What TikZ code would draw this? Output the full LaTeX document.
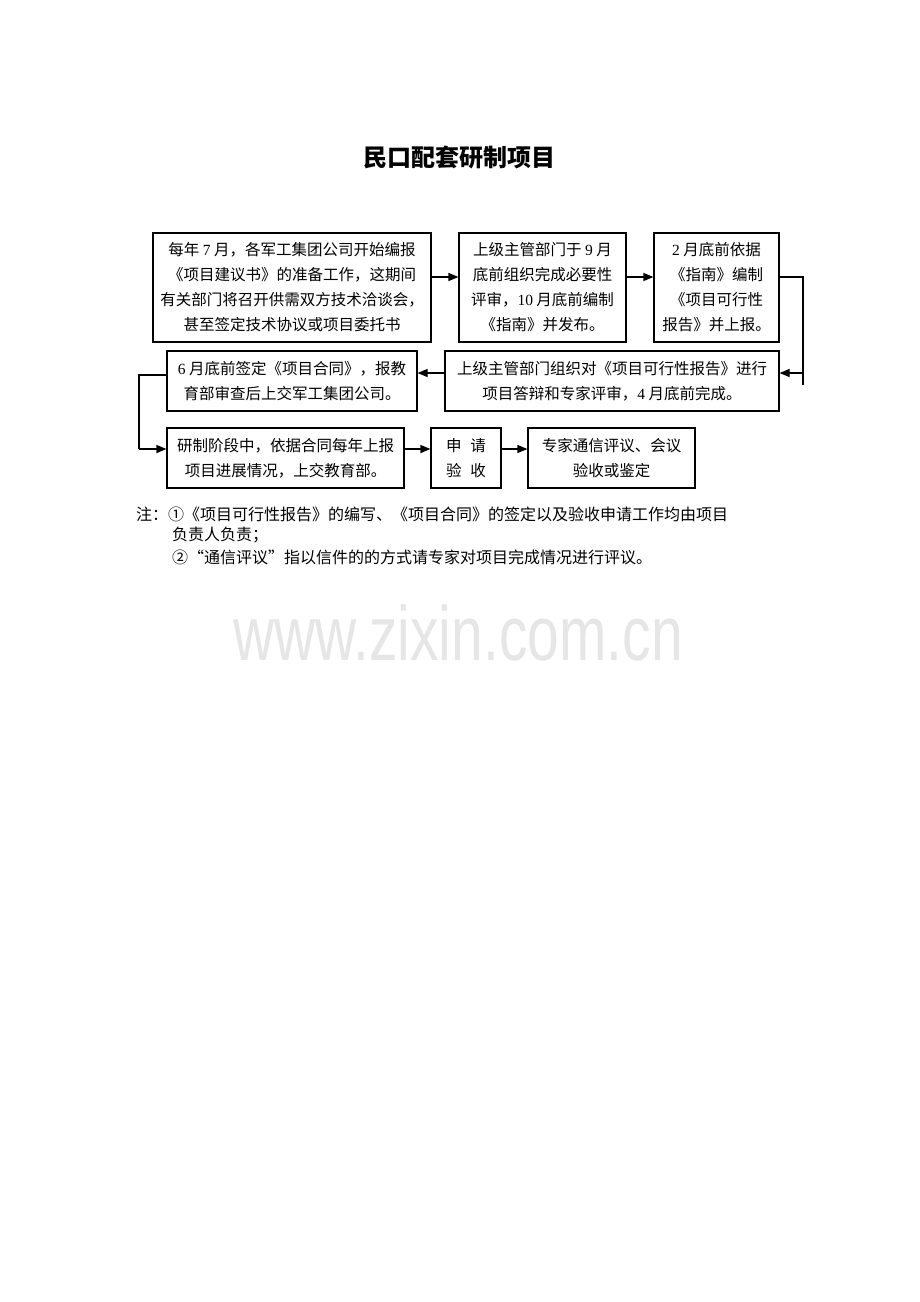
\documentclass[tikz,border=0pt]{standalone}
\usepackage{fontspec}
\usetikzlibrary{arrows.meta}
\newfontfamily\cjk{Noto Sans CJK SC}
\newfontfamily\latf{Liberation Serif}
\newfontfamily\wmfont{Liberation Sans}
\newcommand\lat[1]{{\latf #1}}
\definecolor{wmgray}{HTML}{E6E6E6}
\begin{document}
\begin{tikzpicture}[x=1pt,y=-1pt,
  box/.style={draw=black, line width=1.2pt, inner sep=0pt, align=center,
    font=\cjk\fontsize{15.5pt}{25pt}\selectfont},
  arr/.style={line width=1.2pt, -{Triangle[length=10pt,width=8pt]}},
  ln/.style={line width=1.2pt},
  note/.style={anchor=west, inner sep=0pt, font=\cjk\fontsize{16pt}{21pt}\selectfont}]
\useasboundingbox[fill=white] (0,0) rectangle (920,1302);

\node[inner sep=0pt, font=\cjk\bfseries\fontsize{24pt}{28pt}\selectfont] (title) at (459.5,157) {民口配套研制项目};

% row 1
\node[box, minimum width=278pt, minimum height=109pt] (b1) at (292,287.5)
  {每年 \lat{7} 月，各军工集团公司开始编报\\《项目建议书》的准备工作，这期间\\有关部门将召开供需双方技术洽谈会，\\甚至签定技术协议或项目委托书};
\node[box, minimum width=167pt, minimum height=109pt] (b2) at (542.5,287.5)
  {上级主管部门于 \lat{9} 月\\底前组织完成必要性\\评审，\lat{10} 月底前编制\\《指南》并发布。};
\node[box, minimum width=125pt, minimum height=109pt] (b3) at (716.5,287.5)
  {\lat{2} 月底前依据\\《指南》编制\\《项目可行性\\报告》并上报。};

% row 2
\node[box, minimum width=334pt, minimum height=60pt] (b5) at (612,381)
  {上级主管部门组织对《项目可行性报告》进行\\项目答辩和专家评审，\lat{4} 月底前完成。};
\node[box, minimum width=250pt, minimum height=60pt] (b4) at (292,381)
  {\lat{6} 月底前签定《项目合同》，报教\\育部审查后上交军工集团公司。};

% row 3
\node[box, minimum width=237pt, minimum height=60pt] (b6) at (285.5,458)
  {研制阶段中，依据合同每年上报\\项目进展情况，上交教育部。};
\node[box, minimum width=70pt, minimum height=60pt] (b7) at (466,458)
  {申\hspace{9pt}请\\验\hspace{9pt}收};
\node[box, minimum width=167pt, minimum height=60pt] (b8) at (611.5,458)
  {专家通信评议、会议\\验收或鉴定};

% helper coordinates
\coordinate (r1) at (0,277);
\coordinate (r2) at (0,373);
\coordinate (r2b) at (0,375);
\coordinate (r3) at (0,449);
\coordinate (c1) at (803,277);
\coordinate (c2) at (803,385);
\coordinate (c3) at (803,373);
\coordinate (d1) at (139,375);
\coordinate (d2) at (139,449);

% connectors
\draw[arr] (b1.east |- r1) -- (b2.west |- r1);
\draw[arr] (b2.east |- r1) -- (b3.west |- r1);
\draw[ln] (b3.east |- r1) -- (c1) -- (c2);
\draw[arr] (c3) -- (b5.east |- r2);
\draw[arr] (b5.west |- r2) -- (b4.east |- r2);
\draw[ln] (b4.west |- r2b) -- (d1) -- (d2);
\draw[arr] (d2) -- (b6.west |- r3);
\draw[arr] (b6.east |- r3) -- (b7.west |- r3);
\draw[arr] (b7.east |- r3) -- (b8.west |- r3);

% notes
\node[note] (n1) at (136,514) {注：①《项目可行性报告》的编写、《项目合同》的签定以及验收申请工作均由项目};
\node[note] (n2) at (172,535) {负责人负责；};
\node[note] (n3) at (172,557) {②“通信评议”指以信件的的方式请专家对项目完成情况进行评议。};

% watermark
\node[anchor=base, inner sep=0pt, text=wmgray, xscale=0.74,
  font=\wmfont\fontsize{77pt}{80pt}\selectfont] (wm) at (458,660) {www.zixin.com.cn};
\end{tikzpicture}
\end{document}
